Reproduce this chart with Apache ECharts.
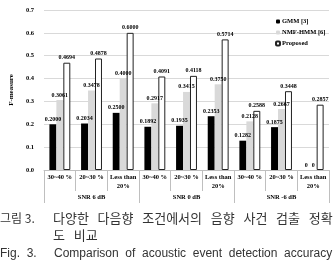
<!DOCTYPE html>
<html>
<head>
    <meta charset="utf-8">
    <script src="https://cdn.jsdelivr.net/npm/echarts@6/dist/echarts.min.js"></script>
</head>
<body style="margin:0">
    <div id="main" style="width: 333px; height: 265px"></div>
    <script type="text/javascript">
        var categories = ['30~40 %', '20~30 %', 'Less than\n20%', '30~40 %', '20~30 %', 'Less than\n20%', '30~40 %', '20~30 %', 'Less than\n20%'];
        var groups = ['SNR 6 dB', 'SNR 0 dB', 'SNR -6 dB'];
        var gmm = [0.2000, 0.2034, 0.2500, 0.1892, 0.1935, 0.2353, 0.1282, 0.1875, 0];
        var nmfHmm = [0.3061, 0.3478, 0.4000, 0.2917, 0.3415, 0.3750, 0.2128, 0.2667, 0];
        var proposed = [0.4694, 0.4878, 0.6000, 0.4091, 0.4118, 0.5714, 0.2588, 0.3448, 0.2857];
        var yTicks = [0, 0.1, 0.2, 0.3, 0.4, 0.5, 0.6, 0.7];

        var serif = 'Liberation Serif';

        function valueLabel(p) {
            return p.value === 0 ? '0' : p.value.toFixed(4);
        }

        var labelStyle = {
            show: true,
            position: 'top',
            distance: 2,
            fontFamily: serif,
            fontWeight: 'bold',
            fontSize: 6,
            color: '#000',
            formatter: valueLabel
        };

        var myChart = echarts.init(document.getElementById('main'));
        var option = {
            animation: false,
            backgroundColor: '#fff',
            grid: { left: 29, right: 4, top: 10, bottom: 95 },
            legend: {
                orient: 'vertical',
                left: 270,
                top: 13,
                itemWidth: 4,
                itemHeight: 4,
                itemGap: 4,
                textStyle: { fontFamily: serif, fontWeight: 'bold', fontSize: 6.5, color: '#000', padding: [0, 0, 0, -3] },
                data: ['GMM [3]', 'NMF-HMM [6]', 'Proposed']
            },
            xAxis: [{
                type: 'category',
                data: categories,
                axisLine: { lineStyle: { color: '#bfbfbf' } },
                axisTick: { show: true, interval: 0, length: 21, lineStyle: { color: '#bfbfbf' } },
                axisLabel: {
                    interval: 0, margin: 3, lineHeight: 9,
                    fontFamily: serif, fontWeight: 'bold', fontSize: 6.5, color: '#000'
                }
            }, {
                type: 'category',
                data: groups,
                position: 'bottom',
                axisLine: { show: false },
                axisTick: { show: true, interval: 0, length: 33, lineStyle: { color: '#bfbfbf' } },
                axisLabel: {
                    interval: 0, margin: 24,
                    fontFamily: serif, fontWeight: 'bold', fontSize: 6.5, color: '#000'
                }
            }],
            yAxis: {
                type: 'value',
                min: 0,
                max: 0.7,
                interval: 0.1,
                name: 'F-measure',
                nameLocation: 'middle',
                nameGap: 21,
                nameTextStyle: { fontFamily: serif, fontWeight: 'bold', fontSize: 7, color: '#000' },
                axisLine: { show: false },
                axisTick: { show: false },
                splitLine: { lineStyle: { color: '#d9d9d9' } },
                axisLabel: {
                    margin: 10,
                    fontFamily: serif, fontWeight: 'bold', fontSize: 6.5, color: '#000',
                    formatter: function (v) { return v.toFixed(1); }
                }
            },
            series: [{
                name: 'GMM [3]',
                type: 'bar',
                data: gmm,
                barCategoryGap: '34%',
                barGap: 0,
                itemStyle: { color: '#000' },
                label: labelStyle
            }, {
                name: 'NMF-HMM [6]',
                type: 'bar',
                data: nmfHmm,
                barGap: 0,
                itemStyle: { color: '#d9d9d9' },
                label: labelStyle
            }, {
                name: 'Proposed',
                type: 'bar',
                data: proposed,
                barGap: 0,
                itemStyle: { color: '#fff', borderColor: '#222', borderWidth: 1 },
                label: labelStyle
            }],
            graphic: [
                { type: 'text', left: 0, top: 212, style: { text: '그림 3.', font: '12px "Noto Sans CJK KR"', fill: '#333' } },
                { type: 'text', left: 53, top: 212, style: { text: '다양한   다음향   조건에서의   음향   사건   검출   정확', font: '13px "Noto Sans CJK KR"', fill: '#333' } },
                { type: 'text', left: 53, top: 229, style: { text: '도   비교', font: '13px "Noto Sans CJK KR"', fill: '#333' } },
                { type: 'text', left: 0, top: 248, style: { text: 'Fig.  3.', font: '12px "Liberation Sans"', fill: '#333' } },
                { type: 'text', left: 54, top: 248, style: { text: 'Comparison  of  acoustic  event  detection  accuracy', font: '12px "Liberation Sans"', fill: '#333' } }
            ]
        };
        myChart.setOption(option);
    </script>
</body>
</html>
